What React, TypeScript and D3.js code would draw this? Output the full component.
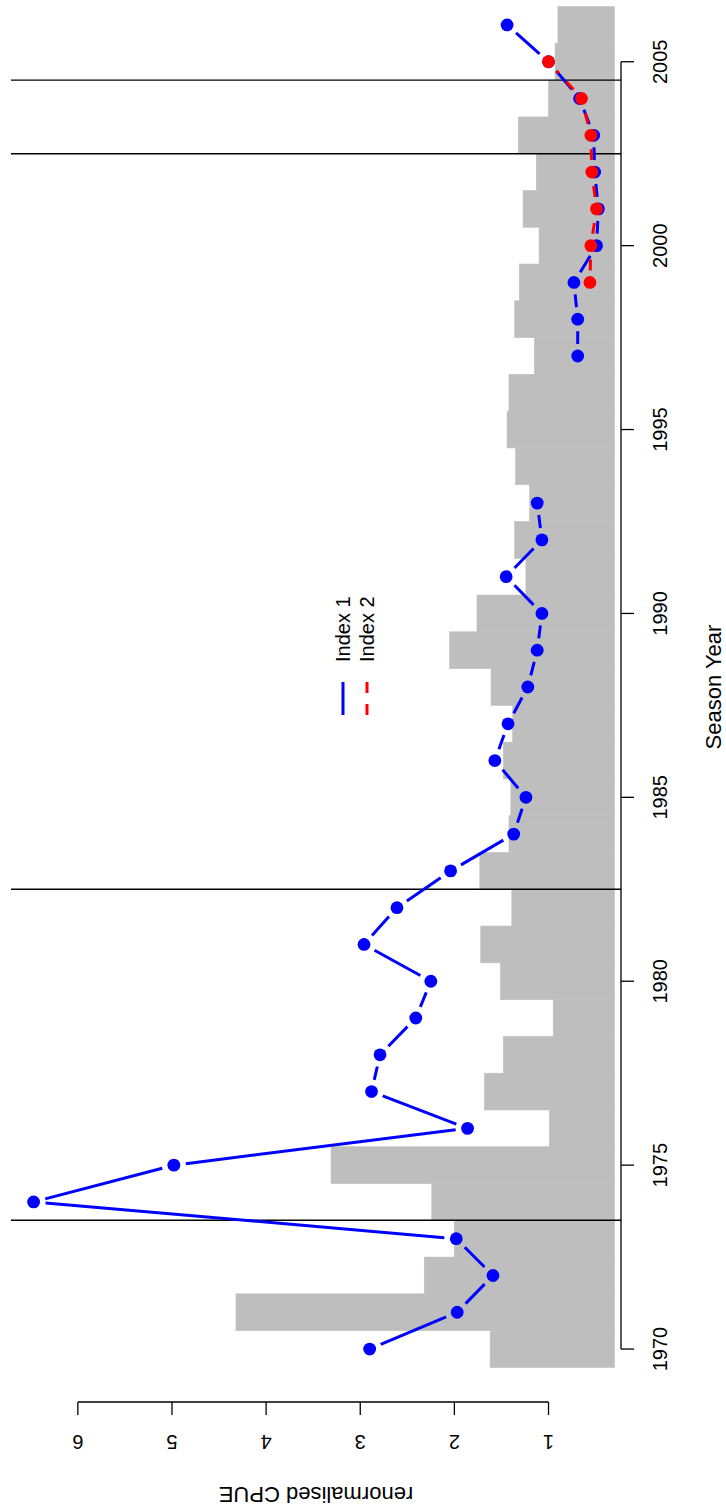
import React, { useEffect, useRef } from "react";
import * as d3 from "d3";

// grey bars: catch, drawn on the CPUE axis scale
const catchYears = [
  1970, 1971, 1972, 1973, 1974, 1975, 1976, 1977, 1978, 1979, 1980, 1981, 1982,
  1983, 1984, 1985, 1986, 1987, 1988, 1989, 1990, 1991, 1992, 1993, 1994, 1995,
  1996, 1997, 1998, 1999, 2000, 2001, 2002, 2003, 2004, 2005, 2006,
];
const catchIndex = [
  1.62, 4.32, 2.32, 2.0, 2.24, 3.31, 0.99, 1.68, 1.48, 0.95, 1.51, 1.72, 1.39,
  1.73, 1.42, 1.4, 1.48, 1.38, 1.61, 2.05, 1.76, 1.24, 1.36, 1.2, 1.35, 1.44,
  1.42, 1.15, 1.36, 1.31, 1.1, 1.27, 1.13, 1.32, 1.0, 0.93, 0.9,
];
const barBase = 0.3;

const index1Years = [
  1970, 1971, 1972, 1973, 1974, 1975, 1976, 1977, 1978, 1979, 1980, 1981, 1982,
  1983, 1984, 1985, 1986, 1987, 1988, 1989, 1990, 1991, 1992, 1993, 1997, 1998,
  1999, 2000, 2001, 2002, 2003, 2004, 2005, 2006,
];
const index1 = [
  2.9, 1.97, 1.59, 1.98, 6.47, 4.98, 1.86, 2.88, 2.79, 2.41, 2.25, 2.96, 2.61,
  2.04, 1.37, 1.24, 1.57, 1.43, 1.22, 1.12, 1.07, 1.45, 1.07, 1.12, 0.69, 0.69,
  0.73, 0.49, 0.47, 0.51, 0.52, 0.67, 1.0, 1.44,
];

const index2Years = [1999, 2000, 2001, 2002, 2003, 2004, 2005];
const index2 = [0.56, 0.55, 0.49, 0.54, 0.55, 0.65, 1.0];

const yearTicks = [1970, 1975, 1980, 1985, 1990, 1995, 2000, 2005];
const cpueTicks = [1, 2, 3, 4, 5, 6];
const breakYears = [1973.5, 1982.5, 2002.5, 2004.5];

const W = 726;
const H = 1510;
const FONT = "'Liberation Sans', Arial, sans-serif";

// type="b": segments stop short of the points
function gapped(pts: [number, number][], gap: number) {
  const out: number[][] = [];
  for (let i = 0; i < pts.length - 1; i++) {
    const [x0, y0] = pts[i];
    const [x1, y1] = pts[i + 1];
    const len = Math.hypot(x1 - x0, y1 - y0);
    if (len <= 2 * gap) continue;
    const ux = (x1 - x0) / len;
    const uy = (y1 - y0) / len;
    out.push([x0 + ux * gap, y0 + uy * gap, x1 - ux * gap, y1 - uy * gap]);
  }
  return out;
}

export default function App() {
  const svgRef = useRef<SVGSVGElement | null>(null);

  useEffect(() => {
    const root = d3.select(svgRef.current);
    root.selectAll("*").remove();

    // drawn upright (years along x), then turned a quarter turn
    const g = root.append("g").attr("transform", `translate(0,${H}) rotate(-90)`);

    const left = 108;
    const plotW = 1430;
    const top = 11;
    const bottom = 621;

    const xPad = (2006 - 1970) * 0.04;
    const x = d3.scaleLinear().domain([1970 - xPad, 2006 + xPad]).range([left, left + plotW]);

    const all = index1.concat(index2);
    const lo = d3.min(all) as number;
    const hi = d3.max(all) as number;
    const yPad = (hi - lo) * 0.04;
    const y = d3.scaleLinear().domain([lo - yPad, hi + yPad]).range([bottom, top]);

    // bars
    g.append("g")
      .selectAll("rect")
      .data(catchYears)
      .enter()
      .append("rect")
      .attr("x", (d) => x(d - 0.5))
      .attr("width", (d) => x(d + 0.5) - x(d - 0.5))
      .attr("y", (d, i) => y(catchIndex[i]))
      .attr("height", (d, i) => y(barBase) - y(catchIndex[i]))
      .attr("fill", "#bebebe")
      .attr("stroke", "#bebebe")
      .attr("stroke-width", 0.6);

    // vertical reference lines
    g.append("g")
      .selectAll("line")
      .data(breakYears)
      .enter()
      .append("line")
      .attr("x1", (d) => x(d))
      .attr("x2", (d) => x(d))
      .attr("y1", top)
      .attr("y2", bottom)
      .attr("stroke", "#000")
      .attr("stroke-width", 1.4);

    const drawSeries = (yrs: number[], vals: number[], color: string, dash: string | null) => {
      // split runs where years are missing
      const runs: [number, number][][] = [];
      let cur: [number, number][] = [];
      yrs.forEach((yr, i) => {
        if (i > 0 && yr - yrs[i - 1] > 1) {
          runs.push(cur);
          cur = [];
        }
        cur.push([x(yr), y(vals[i])]);
      });
      runs.push(cur);
      const segs = runs.flatMap((r) => gapped(r, 12));
      g.append("g")
        .selectAll("line")
        .data(segs)
        .enter()
        .append("line")
        .attr("x1", (d) => d[0])
        .attr("y1", (d) => d[1])
        .attr("x2", (d) => d[2])
        .attr("y2", (d) => d[3])
        .attr("stroke", color)
        .attr("stroke-width", 3)
        .attr("stroke-dasharray", dash);
      g.append("g")
        .selectAll("circle")
        .data(yrs)
        .enter()
        .append("circle")
        .attr("cx", (d) => x(d))
        .attr("cy", (d, i) => y(vals[i]))
        .attr("r", 6.4)
        .attr("fill", color);
    };

    drawSeries(index1Years, index1, "#0000ff", null);
    drawSeries(index2Years, index2, "#ff0000", "11,11");

    // year axis
    const ax = g.append("g").attr("font-family", FONT).attr("font-size", 20);
    ax.append("line")
      .attr("x1", x(yearTicks[0]))
      .attr("x2", x(yearTicks[yearTicks.length - 1]))
      .attr("y1", bottom)
      .attr("y2", bottom)
      .attr("stroke", "#000")
      .attr("stroke-width", 1.3);
    yearTicks.forEach((t) => {
      ax.append("line")
        .attr("x1", x(t))
        .attr("x2", x(t))
        .attr("y1", bottom)
        .attr("y2", bottom + 13)
        .attr("stroke", "#000")
        .attr("stroke-width", 1.3);
      ax.append("text")
        .attr("x", x(t))
        .attr("y", bottom + 46)
        .attr("text-anchor", "middle")
        .text(t);
    });
    ax.append("text")
      .attr("x", (x.range()[0] + x.range()[1]) / 2)
      .attr("y", bottom + 100)
      .attr("text-anchor", "middle")
      .attr("font-size", 22)
      .text("Season Year");

    // CPUE axis
    const ay = g.append("g").attr("font-family", FONT).attr("font-size", 20);
    ay.append("line")
      .attr("x1", left)
      .attr("x2", left)
      .attr("y1", y(cpueTicks[0]))
      .attr("y2", y(cpueTicks[cpueTicks.length - 1]))
      .attr("stroke", "#000")
      .attr("stroke-width", 1.3);
    cpueTicks.forEach((t) => {
      ay.append("line")
        .attr("x1", left)
        .attr("x2", left - 13)
        .attr("y1", y(t))
        .attr("y2", y(t))
        .attr("stroke", "#000")
        .attr("stroke-width", 1.3);
      ay.append("text")
        .attr("transform", `translate(${left - 33},${y(t)}) rotate(-90)`)
        .attr("text-anchor", "middle")
        .text(t);
    });
    ay.append("text")
      .attr("transform", `translate(${left - 85},${(top + bottom) / 2}) rotate(-90)`)
      .attr("text-anchor", "middle")
      .attr("font-size", 22)
      .text("renormalised CPUE");

    // legend
    const lg = g.append("g").attr("font-family", FONT).attr("font-size", 20);
    const legendItems = [
      { label: "Index 1", color: "#0000ff", dash: null },
      { label: "Index 2", color: "#ff0000", dash: "11,11" },
    ];
    legendItems.forEach((it, i) => {
      const ly = 343 + i * 24;
      lg.append("line")
        .attr("x1", 795)
        .attr("x2", 828)
        .attr("y1", ly)
        .attr("y2", ly)
        .attr("stroke", it.color)
        .attr("stroke-width", 3)
        .attr("stroke-dasharray", it.dash);
      lg.append("text")
        .attr("x", 848)
        .attr("y", ly + 7)
        .text(it.label);
    });
  }, []);

  return (
    <svg
      ref={svgRef}
      width={W}
      height={H}
      style={{ position: "absolute", left: 0, top: 0, background: "#fff" }}
    />
  );
}
